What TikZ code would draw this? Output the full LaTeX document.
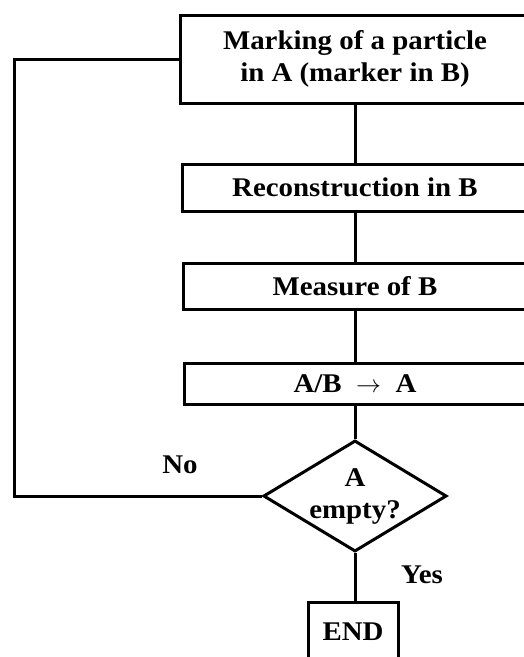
\documentclass[tikz,border=0pt]{standalone}
\usepackage{fontspec}
\setmainfont[FakeStretch=1.07]{Liberation Serif}
\usetikzlibrary{shapes.geometric}

\def\pagebox{(0,0) rectangle (524,657)}
\colorlet{flow edge}{black}
\tikzset{flow/.style={draw=flow edge, line width=3pt},
    process/.style={flow, rectangle, inner sep=0pt, align=center,
        font=\fontsize{27}{32}\selectfont\bfseries},
    decision/.style={flow, diamond, aspect=1.65, inner sep=0pt,
        minimum width=182pt, minimum height=110pt, align=center,
        font=\fontsize{27}{32}\selectfont\bfseries},
    answer/.style={font=\fontsize{27}{32}\selectfont\bfseries}}

\begin{document}
\begin{tikzpicture}[x=1pt, y=-1pt]
     \useasboundingbox \pagebox;
     \clip \pagebox;
     % boxes run on past the right edge
     \node[process, minimum width=350pt, minimum height=88pt] (mark) at (355,59)
         {Marking of a particle\\in A (marker in B)};
     \node[process, minimum width=346pt, minimum height=47pt] (recon) at (355,187.5)
         {Reconstruction in B};
     \node[process, minimum width=344pt, minimum height=46pt] (measure) at (355,286)
         {Measure of B};
     \node[process, minimum width=342pt, minimum height=41pt] (ab) at (355,383.5)
         {A/B~~$\rightarrow$~~A};
     \node[decision] (empty) at (355,496) {A\\empty?};
     \node[process, minimum width=90pt, minimum height=60pt] (stop) at (353,632) {END};
     \coordinate (back) at (14,496);

     \draw[flow] (mark) -- (recon);
     \draw[flow] (recon) -- (measure);
     \draw[flow] (measure) -- (ab);
     \draw[flow] (ab) -- (empty);
     \draw[flow] (empty.south) -- (empty.south |- stop.north);
     \draw[flow] (empty.west) -- (back) |- (mark.west);

     \node[answer] (no) at (180,465) {No};
     \node[answer] (yes) at (422,575) {Yes};
\end{tikzpicture}
\end{document}
